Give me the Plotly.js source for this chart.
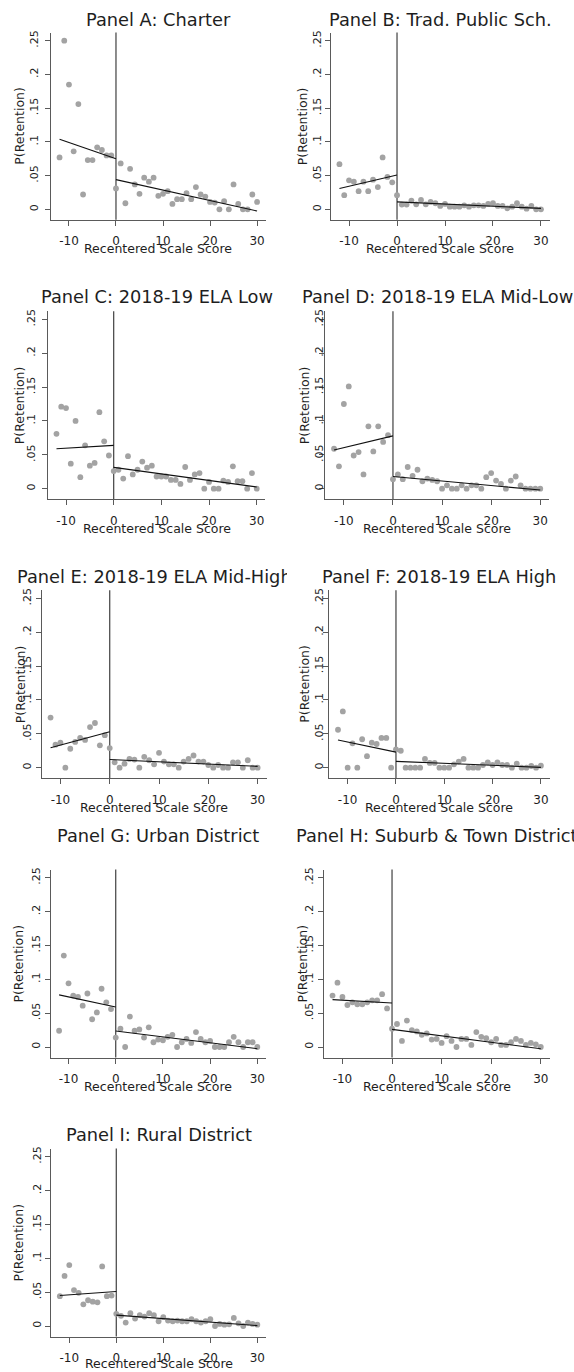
<!DOCTYPE html>
<html>
<head>
<meta charset="utf-8">
<script src="https://cdn.plot.ly/plotly-3.0.1.min.js"></script>
<style>html,body{margin:0;padding:0;background:#fff;}#chart{width:574px;height:1372px;}</style>
</head>
<body>
<div id="chart"></div>
<script>
// ---------- data ----------
const panelTitles = ["Panel A: Charter", "Panel B: Trad. Public Sch.", "Panel C: 2018-19 ELA Low",
  "Panel D: 2018-19 ELA Mid-Low", "Panel E: 2018-19 ELA Mid-High", "Panel F: 2018-19 ELA High",
  "Panel G: Urban District", "Panel H: Suburb & Town District", "Panel I: Rural District"];
const xTitle = "Recentered Scale Score";
const yTitle = "P(Retention)";
const xTickVals = [-10, 0, 10, 20, 30];
const xTickText = ["-10", "0", "10", "20", "30"];
const yTickVals = [0, 0.05, 0.1, 0.15, 0.2, 0.25];
const yTickText = ["0", ".05", ".1", ".15", ".2", ".25"];

const xLeft = [-12, -11, -10, -9, -8, -7, -6, -5, -4, -3, -2, -1];
const xRight = [0, 1, 2, 3, 4, 5, 6, 7, 8, 9, 10, 11, 12, 13, 14, 15, 16, 17, 18, 19, 20, 21, 22, 23, 24, 25, 26, 27, 28, 29, 30];
const fitXLeft = [-12, 0];
const fitXRight = [0, 30];

const leftA = [0.077, 0.250, 0.185, 0.086, 0.156, 0.022, 0.073, 0.073, 0.092, 0.088, 0.080, 0.080];
const rightA = [0.031, 0.068, 0.009, 0.060, 0.037, 0.023, 0.047, 0.041, 0.047, 0.020, 0.023, 0.027, 0.008, 0.015, 0.015, 0.024, 0.015, 0.033, 0.022, 0.019, 0.011, 0.010, 0, 0.012, 0, 0.037, 0.008, 0, 0, 0.022, 0.011];
const fitLeftA = [0.104, 0.075];
const fitRightA = [0.044, -0.0025];

const leftB = [0.067, 0.021, 0.043, 0.041, 0.027, 0.041, 0.027, 0.044, 0.033, 0.077, 0.048, 0.040];
const rightB = [0.021, 0.007, 0.007, 0.013, 0.0074, 0.014, 0.0074, 0.011, 0.009, 0.005, 0.008, 0.004, 0.004, 0.004, 0.006, 0.004, 0.006, 0.006, 0.005, 0.008, 0.009, 0.005, 0.005, 0.0015, 0.004, 0.009, 0.004, 0.001, 0.005, 0, 0];
const fitLeftB = [0.031, 0.051];
const fitRightB = [0.011, 0.0015];

const leftC = [0.081, 0.121, 0.119, 0.037, 0.100, 0.017, 0.064, 0.034, 0.038, 0.113, 0.070, 0.049];
const rightC = [0.026, 0.028, 0.015, 0.048, 0.021, 0.028, 0.040, 0.031, 0.034, 0.018, 0.018, 0.018, 0.013, 0.013, 0.007, 0.032, 0.013, 0.021, 0.023, 0, 0.010, 0, 0, 0.012, 0.010, 0.033, 0.011, 0.011, 0, 0.023, 0];
const fitLeftC = [0.059, 0.064];
const fitRightC = [0.0315, 0.0025];

const leftD = [0.059, 0.033, 0.125, 0.151, 0.049, 0.054, 0.021, 0.092, 0.055, 0.092, 0.069, 0.079];
const rightD = [0.014, 0.021, 0.014, 0.032, 0.019, 0.028, 0.011, 0.015, 0.013, 0.011, 0, 0.005, 0, 0, 0.005, 0, 0.005, 0.005, 0, 0.017, 0.023, 0.012, 0.007, 0, 0.012, 0.018, 0.005, 0, 0, 0, 0];
const fitLeftD = [0.057, 0.078];
const fitRightD = [0.018, -0.002];

const leftE = [0.074, 0.034, 0.037, 0, 0.028, 0.038, 0.044, 0.041, 0.060, 0.066, 0.033, 0.048];
const rightE = [0.029, 0.008, 0, 0.006, 0.013, 0.012, 0, 0.016, 0.011, 0.005, 0.022, 0.009, 0.005, 0.005, 0, 0.009, 0.013, 0.018, 0.009, 0.009, 0.004, 0, 0.004, 0, 0, 0.008, 0.008, 0, 0.011, 0, 0];
const fitLeftE = [0.0295, 0.053];
const fitRightE = [0.012, 0.002];

const leftF = [0.056, 0.083, 0, 0.036, 0, 0.042, 0.017, 0.037, 0.035, 0.044, 0.044, 0];
const rightF = [0.027, 0.025, 0, 0, 0, 0, 0.013, 0.007, 0.007, 0, 0, 0, 0.005, 0.009, 0.013, 0, 0, 0, 0.004, 0.008, 0.004, 0.008, 0.004, 0.004, 0, 0.006, 0, 0, 0.0025, 0, 0.003];
const fitLeftF = [0.041, 0.023];
const fitRightF = [0.0094, 0.0005];

const leftG = [0.024, 0.135, 0.094, 0.076, 0.074, 0.061, 0.079, 0.041, 0.051, 0.086, 0.066, 0.056];
const rightG = [0.014, 0.027, 0, 0.045, 0.024, 0.026, 0.014, 0.029, 0.007, 0.011, 0.010, 0.015, 0.018, 0, 0.007, 0.012, 0.006, 0.022, 0.012, 0.007, 0.009, 0, 0, 0, 0.007, 0.015, 0.007, 0, 0.007, 0.007, 0];
const fitLeftG = [0.077, 0.059];
const fitRightG = [0.0236, -0.0025];

const leftH = [0.076, 0.095, 0.074, 0.062, 0.066, 0.063, 0.063, 0.066, 0.069, 0.069, 0.078, 0.057];
const rightH = [0.027, 0.034, 0.009, 0.039, 0.025, 0.023, 0.018, 0.020, 0.011, 0.012, 0.006, 0.016, 0.009, 0, 0.012, 0.012, 0.003, 0.022, 0.015, 0.013, 0.007, 0.012, 0.003, 0.003, 0.007, 0.012, 0.009, 0.003, 0.006, 0.004, 0];
const fitLeftH = [0.070, 0.065];
const fitRightH = [0.026, -0.0025];

const leftI = [0.044, 0.074, 0.090, 0.053, 0.049, 0.032, 0.038, 0.036, 0.035, 0.088, 0.044, 0.045];
const rightI = [0.018, 0.015, 0.005, 0.019, 0.011, 0.016, 0.014, 0.019, 0.016, 0.007, 0.013, 0.008, 0.007, 0.008, 0.007, 0.007, 0.010, 0.007, 0.005, 0.007, 0.010, 0, 0.003, 0.002, 0.0025, 0.012, 0.004, 0, 0.005, 0.003, 0.002];
const fitLeftI = [0.045, 0.051];
const fitRightI = [0.016, 0.0005];

const leftSeries = [leftA, leftB, leftC, leftD, leftE, leftF, leftG, leftH, leftI];
const rightSeries = [rightA, rightB, rightC, rightD, rightE, rightF, rightG, rightH, rightI];
const fitLeftSeries = [fitLeftA, fitLeftB, fitLeftC, fitLeftD, fitLeftE, fitLeftF, fitLeftG, fitLeftH, fitLeftI];
const fitRightSeries = [fitRightA, fitRightB, fitRightC, fitRightD, fitRightE, fitRightF, fitRightG, fitRightH, fitRightI];

// ---------- layout geometry (pixels) ----------
const W = 574, H = 1372;
const X_MIN = -13.8, X_MAX = 31.8;
// plot boxes: [left, right, top, bottom]
const boxes = [
  [51.1, 265.5, 32.6, 219.8], [330.8, 549.6, 32.6, 219.8],
  [47.9, 265.3, 311.2, 499.2], [325.2, 549.1, 311.2, 499.2],
  [41.7, 266.5, 590.2, 778.2], [329.3, 549.6, 590.2, 778.2],
  [50.6, 265.8, 869.6, 1057.5], [323.6, 549.7, 869.6, 1057.5],
  [51.4, 265.8, 1148.6, 1336.5]
];
const titleY = [19, 19, 297, 297, 576.5, 576.5, 835, 835, 1134.5];
const xTitleOffset = [29, 29, 29, 29, 29, 29, 29, 29, 27];
const yTitleX = [19.5, 302, 19, 304, 20, 304.5, 19, 303, 19];
const yTickStandoff = [3, -1, 3, -8, -4.5, -4, 0, -7.5, 0];

const FONT = "DejaVu Sans, Verdana, sans-serif";
const INK = "#1e1e1e";
const AXIS = "#5a5a5a";
const DOT = "#a3a3a3";

const data = [];
const layout = {
  width: W, height: H,
  margin: {l: 0, r: 0, t: 0, b: 0},
  paper_bgcolor: "#ffffff", plot_bgcolor: "#ffffff",
  showlegend: false,
  font: {family: FONT, color: INK},
  annotations: [], shapes: []
};
const px2x = p => p / W;
const px2y = p => 1 - p / H;

for (let i = 0; i < 9; i++) {
  const n = i + 1;
  const xa = "x" + n, ya = "y" + n;
  const [L, R, T, B] = boxes[i];
  data.push({type: "scatter", mode: "markers", x: xLeft, y: leftSeries[i], xaxis: xa, yaxis: ya,
    marker: {color: DOT, size: 5.8}, cliponaxis: false, hoverinfo: "skip"});
  data.push({type: "scatter", mode: "markers", x: xRight, y: rightSeries[i], xaxis: xa, yaxis: ya,
    marker: {color: DOT, size: 5.8}, cliponaxis: false, hoverinfo: "skip"});
  data.push({type: "scatter", mode: "lines", x: fitXLeft, y: fitLeftSeries[i], xaxis: xa, yaxis: ya,
    line: {color: "#111111", width: 1.1}, hoverinfo: "skip"});
  data.push({type: "scatter", mode: "lines", x: fitXRight, y: fitRightSeries[i], xaxis: xa, yaxis: ya,
    line: {color: "#111111", width: 1.1}, hoverinfo: "skip"});

  const key = n === 1 ? "" : String(n);
  layout["xaxis" + key] = {
    domain: [px2x(L), px2x(R)], anchor: ya, range: [X_MIN, X_MAX],
    tickvals: xTickVals, ticktext: xTickText, ticks: "outside", ticklen: 5, tickcolor: AXIS, tickwidth: 1,
    showline: true, linecolor: AXIS, linewidth: 1, showgrid: false, zeroline: false,
    tickfont: {family: FONT, size: 12, color: INK}, ticklabelstandoff: 5, fixedrange: true
  };
  layout["yaxis" + key] = {
    domain: [px2y(B), px2y(T)], anchor: xa, range: [-0.0155, 0.262],
    tickvals: yTickVals, ticktext: yTickText, tickangle: -90, ticks: "outside", ticklen: 5, tickcolor: AXIS, tickwidth: 1,
    showline: true, linecolor: AXIS, linewidth: 1, showgrid: false, zeroline: false,
    tickfont: {family: FONT, size: 11, color: INK}, ticklabelstandoff: yTickStandoff[i], fixedrange: true
  };
  layout.shapes.push({type: "line", xref: xa, yref: ya + " domain", x0: 0, x1: 0, y0: 0, y1: 1,
    line: {color: "#404040", width: 1.2}, layer: "below"});

  // titles are centred over x = 9 in each panel, as in the original
  const cx = L + (9 - X_MIN) / (X_MAX - X_MIN) * (R - L);
  layout.annotations.push({text: panelTitles[i], xref: "paper", yref: "paper", x: px2x(cx), y: px2y(titleY[i]),
    xanchor: "center", yanchor: "middle", showarrow: false, font: {family: FONT, size: 17.8, color: INK}});
  layout.annotations.push({text: xTitle, xref: "paper", yref: "paper", x: px2x(cx), y: px2y(B + xTitleOffset[i]),
    xanchor: "center", yanchor: "middle", showarrow: false, font: {family: FONT, size: 12.5, color: INK}});
  layout.annotations.push({text: yTitle, xref: "paper", yref: "paper", x: px2x(yTitleX[i]), y: px2y((T + B) / 2),
    xanchor: "center", yanchor: "middle", textangle: -90, showarrow: false, font: {family: FONT, size: 12.5, color: INK}});
}

Plotly.newPlot("chart", data, layout, {staticPlot: true, displayModeBar: false}).then(gd => {
  // Panel E title runs past its cell and is cut at the cell edge in the original
  const ann = gd.querySelector('g.annotation[data-index="12"]');
  if (ann) {
    const ns = "http://www.w3.org/2000/svg";
    const svg = ann.ownerSVGElement;
    let defs = svg.querySelector("defs");
    if (!defs) { defs = document.createElementNS(ns, "defs"); svg.insertBefore(defs, svg.firstChild); }
    const cp = document.createElementNS(ns, "clipPath");
    cp.setAttribute("id", "clipTitleE");
    const r = document.createElementNS(ns, "rect");
    r.setAttribute("x", 0); r.setAttribute("y", 0); r.setAttribute("width", 287); r.setAttribute("height", H);
    cp.appendChild(r); defs.appendChild(cp);
    ann.setAttribute("clip-path", "url(#clipTitleE)");
  }
});
</script>
</body>
</html>
